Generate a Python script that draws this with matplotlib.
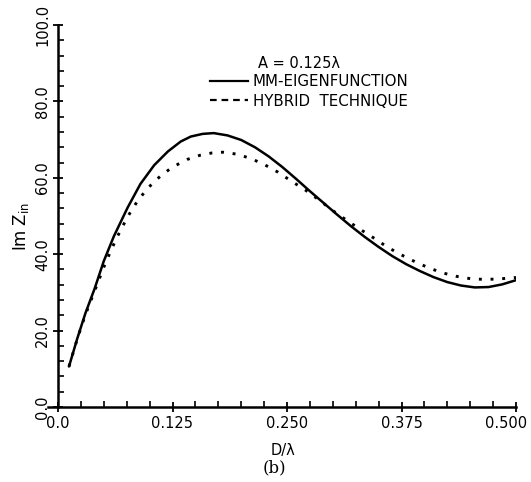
import matplotlib
matplotlib.use("Agg")
import matplotlib.pyplot as plt
import matplotlib.transforms as mtransforms
from matplotlib.lines import Line2D
from matplotlib.ticker import MultipleLocator

# Data
mm_x = [0.012, 0.021, 0.030, 0.040, 0.050, 0.061, 0.076, 0.090, 0.105, 0.120, 0.134,
        0.145, 0.158, 0.170, 0.185, 0.200, 0.215, 0.230, 0.245, 0.260, 0.275, 0.290,
        0.305, 0.320, 0.335, 0.350, 0.365, 0.380, 0.395, 0.410, 0.425, 0.440, 0.455,
        0.470, 0.485, 0.500]
mm_y = [10.6, 17.9, 24.6, 31.0, 38.2, 44.7, 52.2, 58.4, 63.3, 66.9, 69.5,
        70.8, 71.5, 71.7, 71.1, 69.9, 68.0, 65.6, 62.8, 59.7, 56.5, 53.4,
        50.3, 47.3, 44.5, 41.9, 39.5, 37.4, 35.6, 34.0, 32.7, 31.8, 31.3,
        31.4, 32.1, 33.2]

hy_x = [0.012, 0.021, 0.030, 0.040, 0.050, 0.058, 0.065, 0.076, 0.087, 0.098, 0.112,
        0.125, 0.141, 0.155, 0.168, 0.180, 0.195, 0.210, 0.225, 0.240, 0.255, 0.270,
        0.285, 0.300, 0.315, 0.330, 0.345, 0.360, 0.375, 0.390, 0.405, 0.420, 0.435,
        0.450, 0.465, 0.480, 0.500]
hy_y = [10.6, 17.8, 24.2, 30.4, 36.6, 41.1, 44.7, 49.8, 54.0, 57.3, 60.5,
        62.8, 64.8, 65.9, 66.5, 66.7, 66.2, 65.1, 63.5, 61.5, 59.1, 56.8,
        54.2, 51.4, 48.9, 46.5, 44.2, 41.8, 39.8, 38.0, 36.4, 35.1, 34.2,
        33.6, 33.4, 33.5, 33.9]

x_ticks = [0.0, 0.125, 0.250, 0.375, 0.500]
x_tick_labels = ['0.0', '0.125', '0.250', '0.375', '0.500']
y_ticks = [0.0, 20.0, 40.0, 60.0, 80.0, 100.0]
y_tick_labels = ['0.0', '20.0', '40.0', '60.0', '80.0', '100.0']
legend_labels = ["MM-EIGENFUNCTION", "HYBRID  TECHNIQUE"]
legend_title = "A = 0.125λ"

plt.rcParams['font.family'] = ['DejaVu Sans']

fig = plt.figure(figsize=(5.31, 4.82), dpi=100)
ax = fig.add_axes([58/531, 1 - 407/482, (516 - 58)/531, (407 - 25)/482])

ax.plot(mm_x, mm_y, color='black', lw=1.8, solid_capstyle='round',
        solid_joinstyle='round')
ax.plot(hy_x, hy_y, color='black', lw=2.1, linestyle=(0, (1.0, 3.0)))

ax.set_xlim(0.0, 0.5)
ax.set_ylim(0.0, 100.0)
ax.set_xticks(x_ticks)
ax.set_yticks(y_ticks)
ax.xaxis.set_minor_locator(MultipleLocator(0.025))
ax.yaxis.set_minor_locator(MultipleLocator(4.0))
ax.set_xticklabels(x_tick_labels)
ax.set_yticklabels(y_tick_labels, rotation=90, va='center')

for s in ['top', 'right']:
    ax.spines[s].set_visible(False)
for s in ['left', 'bottom']:
    ax.spines[s].set_linewidth(1.8)
ax.spines['bottom'].set_bounds(-0.0105, 0.5)

ax.tick_params(axis='both', which='major', direction='inout', length=7, width=1.3,
               labelsize=10.5, pad=3)
ax.tick_params(axis='y', which='major', pad=2)
ax.tick_params(axis='both', which='minor', direction='in', length=4, width=1.2)

# last x tick label sits shifted left in the reference
last = ax.xaxis.get_major_ticks()[-1].label1
last.set_transform(last.get_transform() +
                   mtransforms.ScaledTranslation(-0.10, 0, fig.dpi_scale_trans))

ax.set_xlabel('D/λ', fontsize=10.5)
ax.xaxis.set_label_coords((283 - 58) / (516 - 58), -(450 - 407) / (407 - 25))
ax.xaxis.label.set_va('center')
ax.set_ylabel(r'Im $\mathrm{Z_{in}}$', fontsize=12)
ax.yaxis.set_label_coords(-(58 - 21) / (516 - 58), (407 - 227) / (407 - 25))
ax.yaxis.label.set_va('center')

fig.text(274 / 531, 1 - 468 / 482, '(b)', fontsize=12,
         family='DejaVu Serif', ha='center', va='center')

handles = [Line2D([], [], color='black', lw=1.6),
           Line2D([], [], color='black', lw=1.6, linestyle=(0, (3.0, 2.2)))]
leg = ax.legend(handles, legend_labels, loc='upper left',
                bbox_to_anchor=((210 - 58) / (516 - 58), (407 - 74) / (407 - 25)),
                frameon=False, fontsize=10.8, handlelength=2.5,
                handletextpad=0.35, labelspacing=0.3, borderpad=0.0,
                borderaxespad=0.0)
ax.text((258 - 58) / (516 - 58), (407 - 63) / (407 - 25), legend_title,
        transform=ax.transAxes, fontsize=10.5, ha='left', va='center')

fig.savefig('out.png', dpi=100)
